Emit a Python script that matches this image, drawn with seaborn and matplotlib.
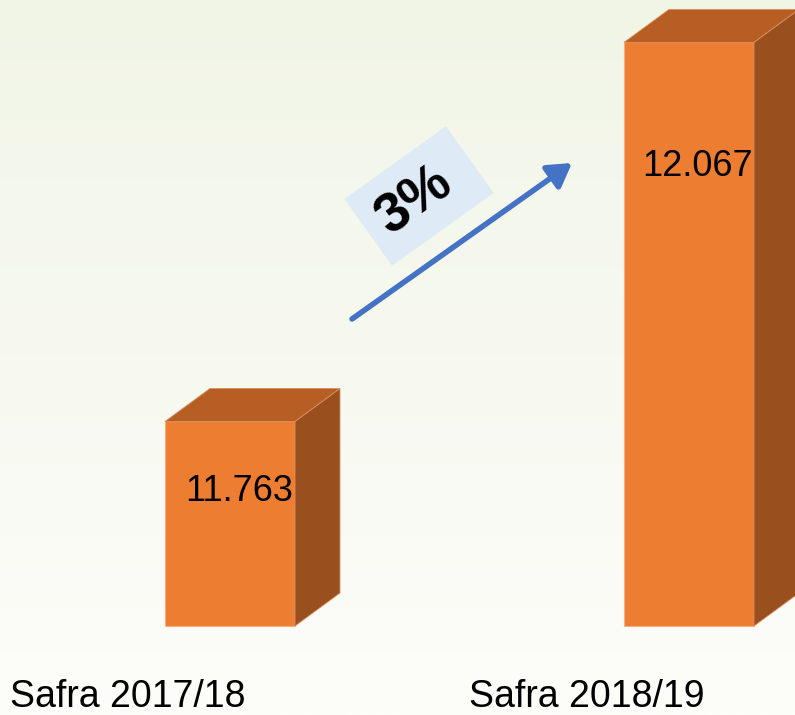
import numpy as np
import matplotlib
matplotlib.use("Agg")
import matplotlib.pyplot as plt
from matplotlib.patches import Polygon, FancyArrowPatch, Rectangle
from matplotlib.transforms import Affine2D
import seaborn as sns

categories = ["Safra 2017/18", "Safra 2018/19"]
values = [11.763, 12.067]
value_labels = ["11.763", "12.067"]
growth_label = "3%"

sns.set_theme(style="white")
plt.rcParams["font.family"] = ["Liberation Sans", "DejaVu Sans"]

W, H = 795, 715
fig = plt.figure(figsize=(W / 100, H / 100), dpi=100)
ax = fig.add_axes([0, 0, 1, 1])

# pixel -> data mapping
baseline = 11.599
ppu_y = 1247.0
ppu_x = 459.0
y_low = baseline - 89 / ppu_y
y_high = baseline + 626 / ppu_y
x_low = 0 - 230 / ppu_x
x_high = 1 + (W - 689) / ppu_x

# background gradient
top = np.array([241, 245, 230]) / 255
bot = np.array([253, 253, 250]) / 255
t = np.linspace(0, 1, 256)[:, None]
grad = top[None, :] * (1 - t) + bot[None, :] * t
ax.imshow(grad[:, None, :].repeat(2, axis=1), extent=[x_low, x_high, y_low, y_high],
          aspect="auto", origin="upper", zorder=0)

bw = 130 / ppu_x
sns.barplot(x=categories, y=values, width=bw, color="#ED7D31", saturation=1,
            edgecolor="#F4B183", linewidth=0.8, ax=ax, zorder=3)

dx = 45 / ppu_x
dy = 33 / ppu_y
label_drop = [70, 124]
for i, p in enumerate(ax.patches):
    p.set_y(baseline)
    p.set_height(values[i] - baseline)
    x0 = p.get_x()
    x1 = x0 + p.get_width()
    ytop = values[i]
    topface = Polygon([(x0, ytop), (x0 + dx, ytop + dy), (x1 + dx, ytop + dy), (x1, ytop)],
                      closed=True, facecolor="#B65E23", edgecolor="#D9905E", linewidth=0.6, zorder=3)
    side = Polygon([(x1, ytop), (x1 + dx, ytop + dy), (x1 + dx, baseline + dy), (x1, baseline)],
                   closed=True, facecolor="#9A501E", edgecolor="#D9905E", linewidth=0.6, zorder=3)
    ax.add_patch(topface)
    ax.add_patch(side)
    ax.text(x0 + p.get_width() / 2 + 9 / ppu_x, ytop - label_drop[i] / ppu_y, value_labels[i],
            ha="center", va="center", fontsize=26, color="black", zorder=5)
    ax.text(i - 220 / ppu_x, baseline - 71 / ppu_y, categories[i],
            ha="left", va="center", fontsize=27, color="black", zorder=5)

ax.set_xlim(x_low, x_high)
ax.set_ylim(y_low, y_high)
ax.axis("off")

def px(xp, yp):
    return (x_low + xp / ppu_x, y_high - yp / ppu_y)

arr = FancyArrowPatch(px(352, 319), px(572, 163), arrowstyle="-|>,head_length=1.0,head_width=0.6",
                      mutation_scale=14, color="#4472C4", linewidth=4, zorder=6,
                      shrinkA=0, shrinkB=0)
ax.add_patch(arr)

# rotated box
cx, cy = 419, 196
bwp, bhp = 125, 82
ang = 35.6
rect = Rectangle((cx - bwp / 2, H - cy - bhp / 2), bwp, bhp, facecolor="#DEEAF6", edgecolor="none",
                 transform=Affine2D().rotate_deg_around(cx, H - cy, ang), zorder=6)
fig.patches.append(rect)
fig.text((cx - 4) / W, 1 - (cy + 5) / H, growth_label, rotation=ang, ha="center", va="center",
         fontsize=40, fontweight="bold", color="black", zorder=7, rotation_mode="anchor")

fig.savefig("out.png", dpi=100)
